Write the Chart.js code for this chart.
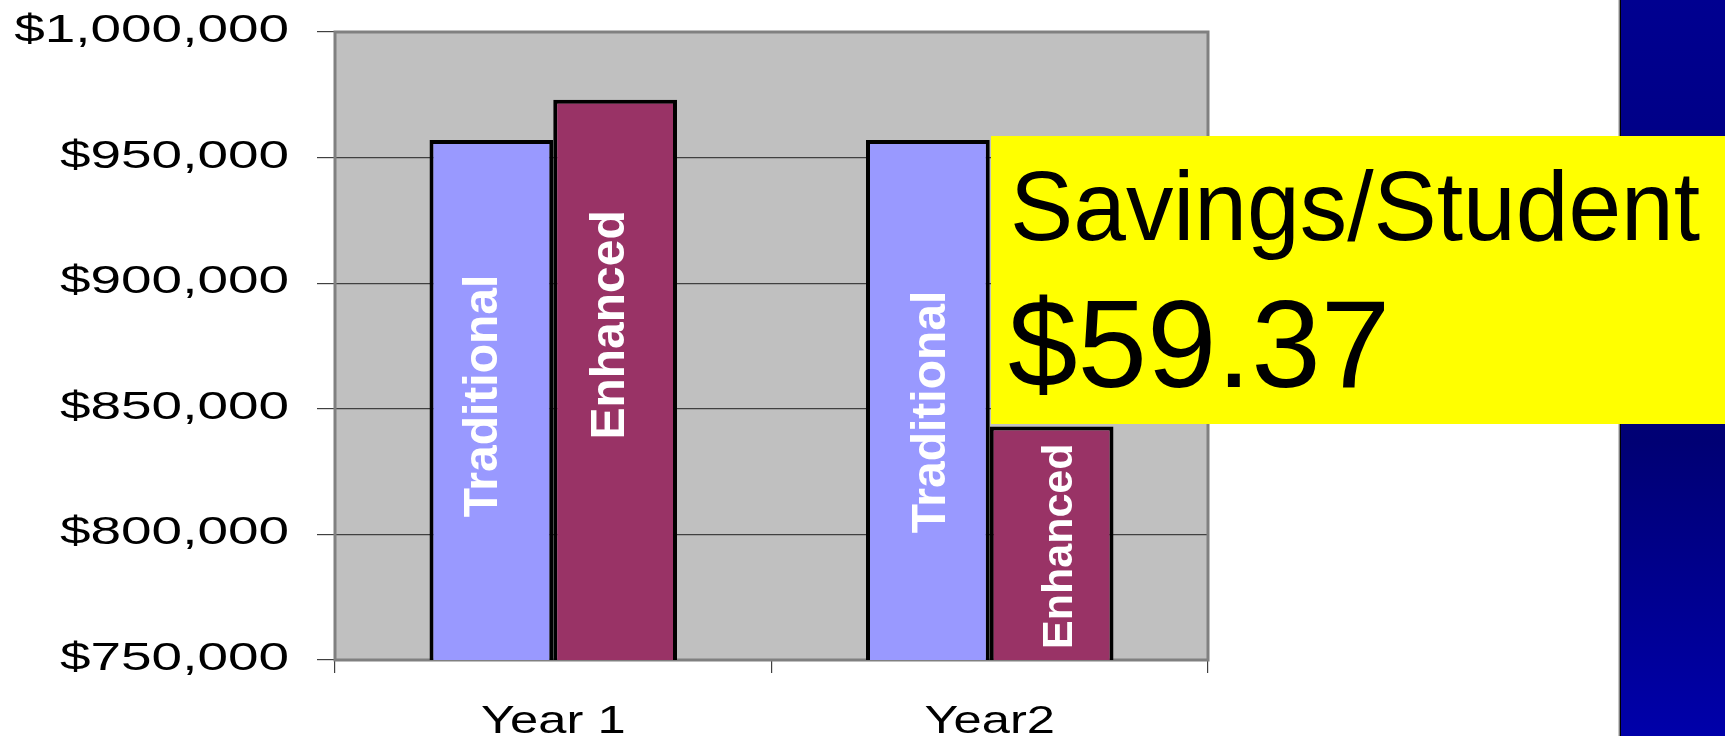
<!DOCTYPE html>
<html>
<head>
<meta charset="utf-8">
<script src="https://cdn.jsdelivr.net/npm/chart.js@4/dist/chart.umd.min.js"></script>
<style>
  html, body { margin: 0; padding: 0; background: #fff; overflow: hidden; }
  canvas { display: block; }
</style>
</head>
<body>
<canvas id="chart" width="1725" height="736"></canvas>
<script>
// data
const years = ['Year 1', 'Year2'];
const traditional = [957000, 957000];
const enhanced = [973000, 843000];
const yMin = 750000, yMax = 1000000, yStep = 50000;
const savingsTitle = 'Savings/Student';
const savingsValue = '$59.37';

const money = v => '$' + v.toLocaleString('en-US');
const FONT = "'Liberation Sans', Arial, sans-serif";

// nudges for the in-bar labels, [dx, dy, fontSize] per bar
const labelTweak = [
    [[-12, -4, 48], [0, 12, 48]],
    [[-8, -55, 48], [5, 3, 43]]
];

const frame = {
    id: 'frame',
    beforeDraw(chart) {
        const { ctx, chartArea: a } = chart;
        ctx.save();
        ctx.fillStyle = '#fff';
        ctx.fillRect(0, 0, chart.width, chart.height);
        ctx.fillStyle = '#c0c0c0';
        ctx.fillRect(a.left, a.top, a.right - a.left, a.bottom - a.top);
        ctx.restore();
    },
    beforeDatasetsDraw(chart) {
        const { ctx, chartArea: a } = chart;
        ctx.save();
        ctx.strokeStyle = '#808080';
        ctx.lineWidth = 3;
        ctx.strokeRect(a.left, a.top, a.right - a.left, a.bottom - a.top);
        ctx.restore();
    },
    afterDraw(chart) {
        const { ctx, scales } = chart;
        ctx.save();
        // white labels written up the bars
        const yScale = scales.y;
        chart.data.datasets.forEach((ds, di) => {
            const meta = chart.getDatasetMeta(di);
            meta.data.forEach((bar, i) => {
                const [dx, dy, size] = labelTweak[di][i];
                const cap = size * 0.716;
                const top = yScale.getPixelForValue(ds.data[i]);
                const base = yScale.getPixelForValue(yMin);
                const cx = bar.x + dx;
                const cy = (top + base) / 2 + dy;
                ctx.save();
                ctx.fillStyle = '#fff';
                ctx.font = 'bold ' + size + 'px ' + FONT;
                ctx.translate(cx + cap / 2, cy);
                ctx.rotate(-Math.PI / 2);
                ctx.textAlign = 'center';
                ctx.textBaseline = 'alphabetic';
                ctx.fillText(ds.label, 0, 0);
                ctx.restore();
            });
        });
        // y tick labels (stretched wide like the original slide)
        ctx.fillStyle = '#000';
        ctx.font = '39.5px ' + FONT;
        ctx.textAlign = 'right';
        ctx.textBaseline = 'alphabetic';
        yScale.ticks.forEach(t => {
            const y = yScale.getPixelForValue(t.value);
            ctx.save();
            ctx.translate(289, y + 10);
            ctx.scale(1.39, 1);
            ctx.fillText(money(t.value), 0, 0);
            ctx.restore();
        });
        // category labels
        ctx.font = '38.7px ' + FONT;
        ctx.textAlign = 'center';
        years.forEach((lab, i) => {
            const x = scales.x.getPixelForValue(i);
            ctx.save();
            ctx.translate(x, 733);
            ctx.scale(1.31, 1);
            ctx.fillText(lab, 0, 0);
            ctx.restore();
        });
        // blue strip at the right
        const g = ctx.createLinearGradient(0, 0, 0, chart.height);
        g.addColorStop(0, '#000090');
        g.addColorStop(0.6, '#000074');
        g.addColorStop(1, '#0000aa');
        ctx.fillStyle = g;
        ctx.fillRect(1620, 0, chart.width - 1620, chart.height);
        ctx.fillStyle = '#c8c8c8';
        ctx.fillRect(1618, 0, 1, chart.height);
        ctx.fillStyle = '#000';
        ctx.fillRect(1619.5, 0, 1.5, chart.height);
        // yellow call-out
        ctx.fillStyle = '#ffff00';
        ctx.fillRect(991, 136, chart.width - 991, 288);
        ctx.fillStyle = '#000';
        ctx.textAlign = 'left';
        ctx.font = '98px ' + FONT;
        ctx.save();
        ctx.translate(1010, 240);
        ctx.scale(0.967, 1);
        ctx.fillText(savingsTitle, 0, 0);
        ctx.restore();
        ctx.font = '125px ' + FONT;
        ctx.fillText(savingsValue, 1008, 387);
        ctx.restore();
    }
};

new Chart(document.getElementById('chart'), {
    type: 'bar',
    data: {
        labels: years,
        datasets: [{
            label: 'Traditional',
            data: traditional,
            backgroundColor: '#9999ff',
            borderColor: '#000',
            borderWidth: 4,
            borderSkipped: false
        }, {
            label: 'Enhanced',
            data: enhanced,
            backgroundColor: '#993366',
            borderColor: '#000',
            borderWidth: 4,
            borderSkipped: false
        }]
    },
    options: {
        responsive: false,
        animation: false,
        layout: { padding: { top: 32, right: 517, left: 0, bottom: 0 } },
        plugins: { legend: { display: false }, tooltip: { enabled: false } },
        datasets: { bar: { categoryPercentage: 0.567, barPercentage: 1 } },
        scales: {
            x: {
                afterFit: s => { s.height = 76; },
                ticks: { display: false },
                border: { display: false },
                grid: { offset: true, drawOnChartArea: false, drawTicks: true, tickLength: 13, color: '#404040', lineWidth: 1.2 }
            },
            y: {
                min: yMin,
                max: yMax,
                afterFit: s => { s.width = 335; },
                ticks: { display: false, stepSize: yStep },
                border: { display: false },
                grid: { color: '#404040', lineWidth: 1.2, tickLength: 18 }
            }
        }
    },
    plugins: [frame]
});
</script>
</body>
</html>
